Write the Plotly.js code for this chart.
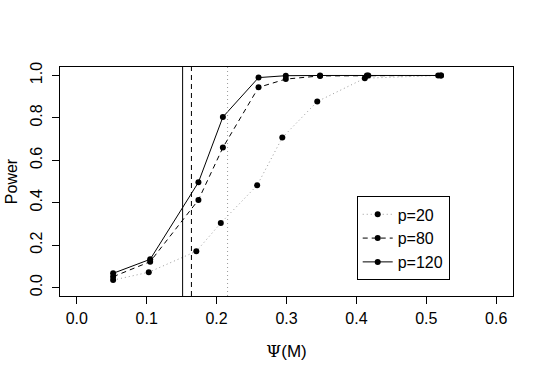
<!DOCTYPE html>
<html>
<head>
<meta charset="utf-8">
<script src="https://cdn.plot.ly/plotly-3.0.1.min.js"></script>
<style>
  body { margin: 0; background: #fff; }
  #chart { width: 545px; height: 382px; }
</style>
</head>
<body>
<div id="chart"></div>
<script>
// power curves
let psi20 = [0.052, 0.103, 0.171, 0.206, 0.258, 0.294, 0.344, 0.412, 0.517];
let pow20 = [0.035, 0.072, 0.171, 0.304, 0.482, 0.707, 0.877, 0.987, 1.0];
let psi80 = [0.052, 0.105, 0.174, 0.209, 0.260, 0.299, 0.348, 0.415, 0.521];
let pow80 = [0.051, 0.122, 0.413, 0.660, 0.944, 0.983, 0.998, 1.0, 1.0];
let psi120 = [0.052, 0.105, 0.174, 0.209, 0.260, 0.299, 0.348, 0.417, 0.521];
let pow120 = [0.067, 0.133, 0.496, 0.804, 0.990, 0.999, 1.0, 1.0, 1.0];
let seriesNames = ['p=20', 'p=80', 'p=120'];
// vertical reference lines (solid, dashed, dotted grey)
let vlines = [0.1514, 0.164, 0.2157];

let xTicks = [0, 0.1, 0.2, 0.3, 0.4, 0.5, 0.6];
let xTickText = ['0.0', '0.1', '0.2', '0.3', '0.4', '0.5', '0.6'];
let yTicks = [0, 0.2, 0.4, 0.6, 0.8, 1.0];
let yTickText = ['0.0', '0.2', '0.4', '0.6', '0.8', '1.0'];

let font = 'Liberation Sans, Arial, sans-serif';

function curve(x, y, name, lineColor, dash) {
    return {
        x: x,
        y: y,
        name: name,
        mode: 'lines+markers',
        line: { color: lineColor, width: 1, dash: dash },
        marker: { color: 'black', size: 6 },
    };
}

let data = [
    curve(psi20, pow20, seriesNames[0], '#9a9a9a', '1px,3px'),
    curve(psi80, pow80, seriesNames[1], 'black', '5px,4px'),
    curve(psi120, pow120, seriesNames[2], 'black', 'solid'),
];

let vStyles = [
    { color: 'black', width: 1, dash: 'solid' },
    { color: 'black', width: 1, dash: '5px,4px' },
    { color: '#9a9a9a', width: 1, dash: '1px,3px' },
];
let shapes = vlines.map((v, i) => ({
    type: 'line',
    xref: 'x',
    yref: 'paper',
    x0: v,
    x1: v,
    y0: 0,
    y1: 1,
    line: vStyles[i],
}));

let axisBase = {
    showline: true,
    mirror: true,
    linecolor: 'black',
    linewidth: 1,
    showgrid: false,
    zeroline: false,
    ticks: 'outside',
    ticklen: 7,
    tickcolor: 'black',
    tickfont: { family: font, size: 16, color: 'black' },
};

var layout = {
    width: 545,
    height: 382,
    margin: { l: 60, r: 32, t: 67, b: 86 },
    paper_bgcolor: 'white',
    plot_bgcolor: 'white',
    showlegend: true,
    shapes: shapes,
    xaxis: Object.assign({}, axisBase, {
        range: [-0.024, 0.624],
        tickvals: xTicks,
        ticktext: xTickText,
        ticklabelstandoff: 1,
        title: {
            text: '<span style="font-family:DejaVu Serif">Ψ</span>(M)',
            font: { family: font, size: 17, color: 'black' },
            standoff: 18,
        },
    }),
    yaxis: Object.assign({}, axisBase, {
        range: [-0.04, 1.04],
        tickvals: yTicks,
        ticktext: yTickText,
        tickangle: -90,
        ticklabelstandoff: 4,
        title: {
            text: 'Power',
            font: { family: font, size: 16, color: 'black' },
            standoff: 5,
        },
    }),
    legend: {
        x: 0.655,
        y: 0.435,
        xanchor: 'left',
        yanchor: 'top',
        bgcolor: 'white',
        bordercolor: 'black',
        borderwidth: 1,
        font: { family: font, size: 16, color: 'black' },
        tracegroupgap: 0,
        itemwidth: 30,
    },
};

Plotly.newPlot('chart', data, layout, { displayModeBar: false, staticPlot: true });
</script>
</body>
</html>
